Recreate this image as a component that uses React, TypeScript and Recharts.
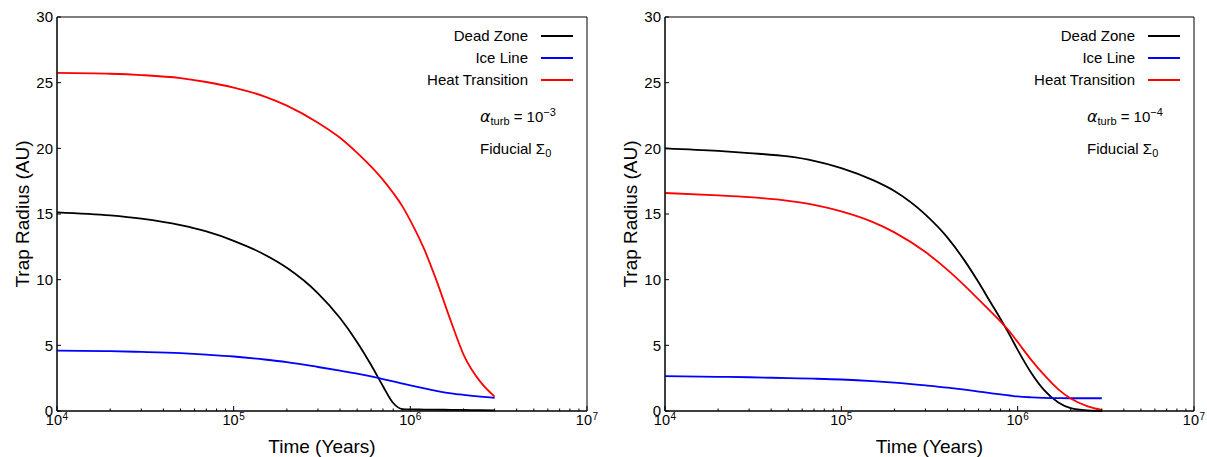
import React from "react";
import {
  LineChart,
  Line,
  XAxis,
  YAxis,
  ReferenceArea,
  Legend,
} from "recharts";

// time grid in years (shared by both panels)
const times = [
  1e4, 2e4, 3e4, 5e4, 7e4, 1e5, 1.5e5, 2e5, 3e5, 4e5, 5e5, 6e5, 7e5, 8e5, 9e5,
  1e6, 1.2e6, 1.4e6, 1.7e6, 2e6, 2.5e6, 3e6,
];

// left panel, alpha_turb = 1e-3
const deadZoneA = [
  15.13, 14.89, 14.64, 14.15, 13.67, 12.96, 11.9, 10.9, 8.96, 7.08, 5.24, 3.5,
  1.89, 0.61, 0.15, 0.12, 0.11, 0.1, 0.09, 0.08, 0.06, 0.05,
];
const iceLineA = [
  4.6, 4.56, 4.5, 4.4, 4.29, 4.15, 3.92, 3.72, 3.35, 3.07, 2.84, 2.63, 2.43,
  2.25, 2.09, 1.95, 1.72, 1.54, 1.35, 1.23, 1.09, 1.0,
];
const heatTransA = [
  25.74, 25.68, 25.58, 25.35, 25.05, 24.63, 23.94, 23.25, 21.95, 20.8, 19.65,
  18.6, 17.6, 16.6, 15.6, 14.5, 12.3, 10.0, 6.8, 4.3, 2.2, 1.1,
];

// right panel, alpha_turb = 1e-4
const deadZoneB = [
  20.0, 19.8, 19.64, 19.38, 19.05, 18.5, 17.6, 16.75, 14.95, 13.2, 11.45, 9.8,
  8.3, 7.0, 5.8, 4.65, 2.85, 1.65, 0.65, 0.22, 0.04, 0.0,
];
const iceLineB = [
  2.65, 2.6, 2.57, 2.5, 2.46, 2.4, 2.28, 2.16, 1.95, 1.78, 1.62, 1.48, 1.36,
  1.26, 1.18, 1.11, 1.04, 1.0, 0.98, 0.97, 0.97, 0.97,
];
const heatTransB = [
  16.6, 16.42, 16.28, 16.0, 15.7, 15.2, 14.4, 13.6, 12.1, 10.75, 9.55, 8.5,
  7.6, 6.8, 6.05, 5.25, 3.85, 2.8, 1.65, 0.95, 0.35, 0.08,
];

const xTicks = [
  1e4, 2e4, 3e4, 4e4, 5e4, 6e4, 7e4, 8e4, 9e4, 1e5, 2e5, 3e5, 4e5, 5e5, 6e5,
  7e5, 8e5, 9e5, 1e6, 2e6, 3e6, 4e6, 5e6, 6e6, 7e6, 8e6, 9e6, 1e7,
];
const yTicks = [0, 5, 10, 15, 20, 25, 30];

const FONT = '"Liberation Sans", Arial, sans-serif';

const buildData = (dz: number[], ice: number[], heat: number[]) =>
  times.map((t, i) => ({ t, dz: dz[i], ice: ice[i], heat: heat[i] }));

const XTick = (props: any) => {
  const { x, y, payload } = props;
  const e = Math.log10(payload.value);
  const major = Math.abs(e - Math.round(e)) < 1e-6;
  return (
    <g>
      <line x1={x} x2={x} y1={y} y2={y - (major ? 5 : 2.5)} stroke="#000" />
      {major && (
        <g>
          <text
            x={x + 5}
            y={y + 13.5}
            textAnchor="end"
            style={{ fontSize: 14.5, fontFamily: FONT }}
            fill="#000"
          >
            10
          </text>
          <text
            x={x + 5.5}
            y={y + 8.5}
            textAnchor="start"
            style={{ fontSize: 10, fontFamily: FONT }}
            fill="#000"
          >
            {Math.round(e)}
          </text>
        </g>
      )}
    </g>
  );
};

const YTick = (props: any) => {
  const { x, y, payload } = props;
  return (
    <g>
      <line x1={x} x2={x + 4} y1={y} y2={y} stroke="#000" />
      <text
        x={x - 4}
        y={y + 5.3}
        textAnchor="end"
        style={{ fontSize: 15, fontFamily: FONT }}
        fill="#000"
      >
        {payload.value}
      </text>
    </g>
  );
};

const xLabel = (props: any) => {
  const { x, y, width } = props.viewBox;
  return (
    <text
      x={x + width / 2}
      y={y + 42}
      textAnchor="middle"
      style={{ fontSize: 19, fontFamily: FONT }}
      fill="#000"
    >
      Time (Years)
    </text>
  );
};

const yLabel = (props: any) => {
  const { x, y, height } = props.viewBox;
  const cx = x + 22;
  const cy = y + height / 2;
  return (
    <text
      x={cx}
      y={cy}
      dy={6.5}
      textAnchor="middle"
      style={{ fontSize: 19, fontFamily: FONT }}
      fill="#000"
      transform={`rotate(-90, ${cx}, ${cy})`}
    >
      Trap Radius (AU)
    </text>
  );
};

const legendRows = [
  { name: "Dead Zone", color: "#000000" },
  { name: "Ice Line", color: "#0000ff" },
  { name: "Heat Transition", color: "#ff0000" },
];

const makeLegend = (exp: string) => () =>
  (
    <div
      style={{
        position: "relative",
        width: 175,
        height: 140,
        fontFamily: FONT,
        fontSize: 15,
        color: "#000",
      }}
    >
      {legendRows.map((r, i) => (
        <div
          key={r.name}
          style={{
            position: "absolute",
            right: 14,
            top: i * 22,
            height: 22,
            lineHeight: "22px",
            display: "flex",
            alignItems: "center",
            whiteSpace: "nowrap",
          }}
        >
          <span>{r.name}</span>
          <span
            style={{
              display: "inline-block",
              width: 32,
              height: 0,
              borderTop: `2px solid ${r.color}`,
              marginLeft: 13,
            }}
          />
        </div>
      ))}
      <div
        style={{
          position: "absolute",
          left: 68,
          top: 81,
          height: 22,
          lineHeight: "22px",
          whiteSpace: "nowrap",
        }}
      >
        <span
          style={{
            fontStyle: "italic",
            fontFamily: '"DejaVu Sans", sans-serif',
            fontSize: 16,
          }}
        >
          α
        </span>
        <span style={{ fontSize: 11, position: "relative", top: 3 }}>turb</span>
        {" = 10"}
        <span style={{ fontSize: 11, position: "relative", top: -6 }}>
          −{exp}
        </span>
      </div>
      <div
        style={{
          position: "absolute",
          left: 68,
          top: 113,
          height: 22,
          lineHeight: "22px",
          whiteSpace: "nowrap",
        }}
      >
        Fiducial Σ
        <span style={{ fontSize: 11, position: "relative", top: 3 }}>0</span>
      </div>
    </div>
  );

const Panel = ({
  dz,
  ice,
  heat,
  exp,
  width,
}: {
  dz: number[];
  ice: number[];
  heat: number[];
  exp: string;
  width: number;
}) => {
  const data = buildData(dz, ice, heat);
  return (
    <LineChart
      width={width}
      height={457}
      data={data}
      margin={{ top: 17, right: 13, bottom: 0, left: 0 }}
    >
      <XAxis
        dataKey="t"
        type="number"
        scale="log"
        domain={[1e4, 1e7]}
        allowDataOverflow
        ticks={xTicks}
        interval={0}
        tickLine={false}
        tickSize={0}
        tickMargin={0}
        tick={<XTick />}
        height={46}
        axisLine={{ stroke: "#000" }}
        label={xLabel}
      />
      <YAxis
        type="number"
        domain={[0, 30]}
        ticks={yTicks}
        interval={0}
        tickLine={false}
        tickSize={0}
        tickMargin={0}
        tick={<YTick />}
        width={57}
        axisLine={{ stroke: "#000" }}
        label={yLabel}
      />
      <ReferenceArea
        x1={1e4}
        x2={1e7}
        y1={0}
        y2={30}
        fill="none"
        stroke="#000"
        strokeWidth={1}
        fillOpacity={0}
      />
      <Line
        type="monotone"
        dataKey="dz"
        stroke="#000000"
        strokeWidth={1.8}
        dot={false}
        isAnimationActive={false}
      />
      <Line
        type="monotone"
        dataKey="ice"
        stroke="#0000ff"
        strokeWidth={1.8}
        dot={false}
        isAnimationActive={false}
      />
      <Line
        type="monotone"
        dataKey="heat"
        stroke="#ff0000"
        strokeWidth={1.8}
        dot={false}
        isAnimationActive={false}
      />
      <Legend
        layout="horizontal"
        verticalAlign="middle"
        align="center"
        content={makeLegend(exp)}
        wrapperStyle={{ top: 25, right: 13, left: "auto", width: "auto" }}
      />
    </LineChart>
  );
};

export default function App() {
  return (
    <div
      style={{
        position: "absolute",
        top: 0,
        left: 0,
        width: 1207,
        height: 457,
        background: "#fff",
      }}
    >
      <div style={{ position: "absolute", left: 0, top: 0 }}>
        <Panel dz={deadZoneA} ice={iceLineA} heat={heatTransA} exp="3" width={600} />
      </div>
      <div style={{ position: "absolute", left: 608, top: 0 }}>
        <Panel dz={deadZoneB} ice={iceLineB} heat={heatTransB} exp="4" width={599} />
      </div>
    </div>
  );
}
